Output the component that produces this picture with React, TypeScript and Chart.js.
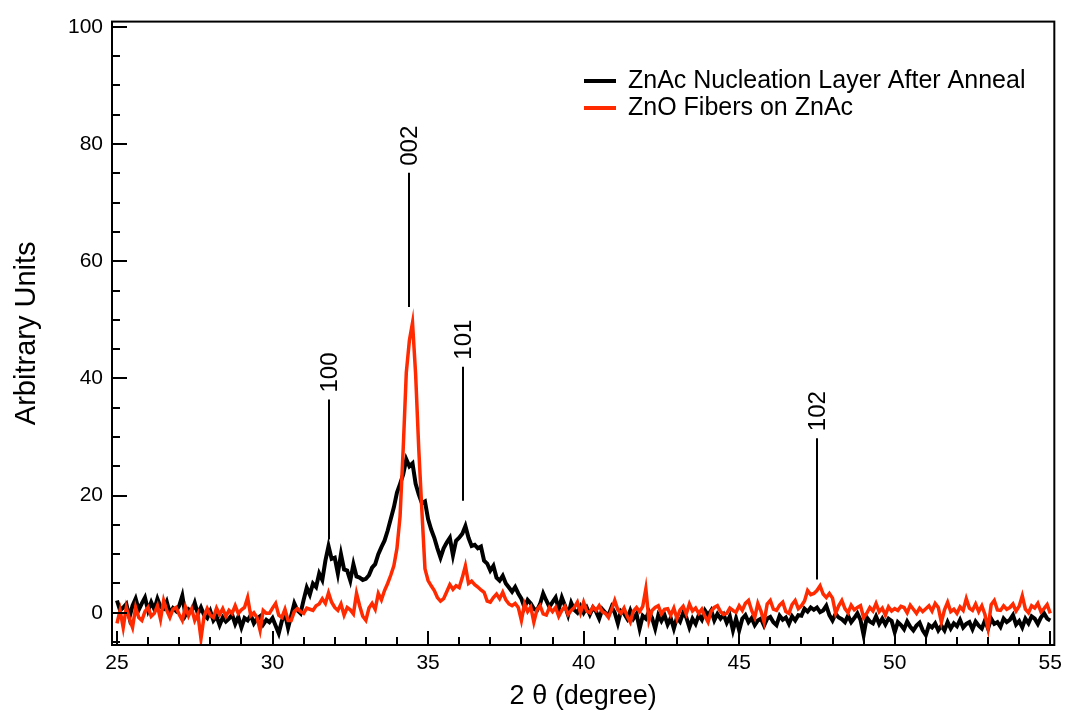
import React, { useEffect, useRef } from "react";
import { Chart, registerables } from "chart.js";

Chart.register(...registerables);

const FONT = '"Liberation Sans", Arial, Helvetica, sans-serif';

// 2θ grid: first angle and step (degrees)
const START_ANGLE = 25;
const ANGLE_STEP = 0.1;

const seriesLabels = ["ZnAc Nucleation Layer After Anneal", "ZnO Fibers on ZnAc"];
const seriesColors = ["#000000", "#ff2a00"];

// one row = one degree (10 samples), from 25.0 to 55.0
const znacCounts = [
  2.1, 0.4, 0.9, 1.5, -0.8, 1.2, 2.4, 0.5, 1.6, 2.6,
  0.4, 1.8, 0.6, 2.4, 1.0, 0.7, 1.9, -0.1, 0.8, 0.3,
  1.2, 2.9, -0.4, 0.6, 0.2, 1.7, -0.2, 0.9, -0.4, -0.9,
  0.3, -1.3, -0.6, -2.1, -0.8, -1.5, -1.0, -0.3, -1.9, -0.7,
  -2.5, -0.9, -1.3, -0.4, -1.8, -1.0, -0.6, -2.0, -1.2, -1.6,
  -0.9, -2.2, -3.5, -1.4, -0.1, -2.6, -0.5, 1.6, 0.4, -0.1,
  2.2, 4.3, 3.1, 5.0, 4.4, 6.7, 5.6, 8.9, 11.4, 9.2,
  9.4, 6.7, 10.0, 7.4, 7.2, 5.5, 8.3, 6.2, 6.0, 5.6,
  5.8, 6.4, 7.7, 8.3, 10.0, 11.2, 12.3, 14.0, 16.0, 18.0,
  20.5, 22.0, 23.6, 26.2, 25.0, 25.5, 22.0, 20.2, 18.7, 19.0,
  16.0, 14.2, 12.8, 11.0, 9.4, 11.0, 12.0, 12.8, 9.8, 12.3,
  12.8, 13.5, 14.8, 12.8, 11.4, 11.6, 11.0, 11.3, 8.9, 8.4,
  7.2, 8.0, 6.0, 5.5, 6.3, 5.0, 4.3, 3.6, 4.4, 3.3,
  2.4, 0.9, 2.2, 1.6, 0.7, 0.4, 1.5, 3.3, 2.1, 1.0,
  1.8, 2.6, 0.6, 2.6, 1.2, -0.4, 1.7, 0.5, 0.0, 1.1,
  0.0, 0.9, -0.3, 0.9, 0.2, -1.0, 0.6, 0.0, -0.4, 1.0,
  0.0, -1.8, 0.3, -0.1, -1.0, 0.4, -1.0, -0.2, -2.7, -0.5,
  -1.0, 0.2, -0.9, -2.7, -0.4, -1.4, -0.4, -2.0, -0.9, -2.7,
  -0.8, -1.5, 0.0, -0.8, -2.5, -1.0, -1.9, -0.4, -1.2, 0.4,
  -0.4, 0.4, -1.3, -0.2, -1.0, -0.3, -1.7, -0.6, -3.0, -1.0,
  -3.0, -1.0, -0.4, -1.6, -0.9, -2.1, -1.3, -1.0, -2.2, -1.0,
  -0.7, -1.6, -2.1, -0.5, -1.2, -0.8, -1.9, -0.6, -1.3, -0.4,
  -0.5, 0.7, 0.2, 0.9, 0.5, 0.9, 0.1, 0.4, 1.2, -0.4,
  -1.3, -0.2, -0.8, -1.1, -1.6, -0.5, -1.6, -0.9, -0.1, -1.2,
  -3.8, -0.8, -1.5, -1.8, -0.6, -1.9, -1.0, -2.0, -1.0, -1.4,
  -3.3, -1.6, -2.1, -2.8, -1.5, -2.4, -3.0, -2.2, -1.7, -3.0,
  -3.8, -2.1, -2.5, -1.8, -3.0, -2.2, -3.0, -1.6, -2.7, -1.8,
  -2.3, -1.2, -2.5, -1.9, -1.6, -2.8, -1.5, -2.2, -2.7, -1.3,
  -2.7, -1.0, -1.9, -1.6, -2.4, -1.0, -1.6, -1.2, -0.4, -2.0,
  -1.4, -2.5, -1.0, -1.8, -0.6, -1.0, -1.9, -0.8, -0.1, -1.0,
  -1.3,
];

const fiberCounts = [
  -1.8, 0.4, -2.5, 0.9, -1.0, -2.5, 0.9, -0.8, -1.3, 0.2,
  0.9, -0.6, -0.1, 1.2, -1.1, 2.1, 0.4, -0.8, 0.6, 0.9,
  -0.3, -1.3, 1.0, -0.5, 0.7, -1.3, -0.2, -4.4, -0.6, 0.7,
  -0.4, -0.8, 0.8, -0.3, 0.7, -0.6, 0.4, -0.1, 1.2, -0.1,
  0.5, 0.9, 2.6, -0.5, 0.0, -0.8, -3.0, 0.4, -0.1, -0.1,
  0.8, 1.6, -0.4, -0.8, 0.6, -1.3, -1.3, 0.2, 0.7, 0.2,
  -0.1, 0.8, 0.6, 0.4, 1.2, 1.5, 2.4, 1.6, 3.4, 1.8,
  0.9, 0.4, 1.5, -0.4, 0.9, 0.5, -0.2, 3.3, 1.2, -0.6,
  -1.3, 0.8, 1.6, 0.6, 3.3, 2.2, 3.8, 5.0, 6.4, 8.0,
  11.0, 16.5, 28.0, 41.0, 46.5, 49.5, 40.7, 28.0, 17.5, 7.5,
  5.5, 4.6, 3.8, 2.6, 2.0, 2.4, 3.6, 4.8, 4.0, 4.6,
  4.3, 6.0, 8.0, 5.0, 5.4, 4.8, 4.4, 3.9, 3.5, 2.0,
  1.8, 2.6, 3.2, 2.4, 3.5, 2.2, 1.5, 1.2, 1.6, 0.9,
  -1.3, 1.5, 0.2, 1.0, -1.6, 0.5, 1.2, -0.2, -0.4, 0.9,
  0.2, 0.9, -0.6, 0.4, 1.1, -0.3, 0.4, 0.9, 1.8, 0.0,
  1.8, 0.3, 0.0, 1.0, 0.4, 1.2, 0.2, -0.1, -0.8, 0.6,
  2.1, 0.5, -0.1, 0.8, -0.6, -1.6, 0.3, 0.9, 0.2, 1.1,
  4.1, -1.3, 0.4, 0.9, 1.2, -0.2, 0.6, 0.7, -0.4, 0.8,
  -1.0, 0.5, 1.1, -0.2, 1.5, 0.3, 0.8, -0.1, 0.6, -0.6,
  -1.6, 0.3, 0.9, 1.2, 0.2, -0.3, -0.1, 0.8, 0.4, 0.1,
  1.2, 0.4, 1.6, 2.1, 0.4, -0.8, 1.6, 0.3, -1.6, 1.5,
  2.1, 0.6, 0.4, 1.3, 1.8, 0.2, -0.1, 1.4, 2.1, 0.7,
  1.2, 2.0, 3.8, 3.1, 3.3, 3.8, 4.6, 3.2, 2.6, 3.3,
  2.5, -0.1, 1.2, 2.1, 0.7, 0.0, 1.3, 0.5, 0.9, 1.2,
  -0.8, -0.1, 0.9, 0.3, 1.6, 0.2, 0.8, -0.4, 1.0, 0.3,
  0.7, 0.4, 1.1, 0.9, 0.0, 1.3, 0.6, -0.1, 0.8, 0.2,
  0.7, 1.2, 0.3, 1.6, 0.9, -1.6, 0.5, 1.8, 0.2, 0.6,
  -0.1, 1.0, 0.4, 2.4, 0.8, 0.4, 1.5, 0.2, 1.2, -0.3,
  -2.7, 1.4, 2.1, 0.5, 0.4, 1.2, 0.6, 0.9, 1.5, 0.3,
  1.1, 2.9, 0.6, 0.0, 1.2, 0.8, 1.6, 0.2, 0.7, 1.4,
  -0.1,
];

const xTickValues = [25, 30, 35, 40, 45, 50, 55];
const yTickValues = [0, 20, 40, 60, 80, 100];

// reflection markers (hkl)
const peakLabels = ["100", "002", "101", "102"];
const peakAngles = [31.83, 34.39, 36.12, 47.5];
const peakLineTop = [36.4, 75.1, 42.0, 29.8];
const peakLineBottom = [12.5, 52.2, 19.1, 5.7];

const toPoints = (vals: number[]) =>
  vals.map((y, i) => ({ x: +(START_ANGLE + i * ANGLE_STEP).toFixed(2), y }));

const decorPlugin = {
  id: "decor",
  afterDraw(chart: any) {
    const { ctx, chartArea: a, scales } = chart;
    const xs = scales.x;
    const ys = scales.y;
    ctx.save();
    ctx.strokeStyle = "#000";
    ctx.fillStyle = "#000";
    ctx.lineCap = "butt";

    const seg = (x1: number, y1: number, x2: number, y2: number) => {
      ctx.beginPath();
      ctx.moveTo(x1, y1);
      ctx.lineTo(x2, y2);
      ctx.stroke();
    };

    // frame
    ctx.lineWidth = 2;
    ctx.strokeRect(a.left, a.top, a.right - a.left, a.bottom - a.top);

    // inward ticks on x (minor every 1, major every 5)
    for (let v = Math.ceil(xs.min); v <= xs.max + 1e-9; v += 1) {
      const px = Math.round(xs.getPixelForValue(v));
      const len = v % 5 === 0 ? 14 : 8;
      seg(px, a.bottom, px, a.bottom - len);
    }
    // inward ticks on y (minor every 5, major every 20)
    for (let v = Math.ceil(ys.min / 5) * 5; v <= ys.max + 1e-9; v += 5) {
      const py = Math.round(ys.getPixelForValue(v));
      const len = v % 20 === 0 ? 15 : 8;
      seg(a.left, py, a.left + len, py);
    }

    // reflection markers
    ctx.lineWidth = 2;
    ctx.font = `24px ${FONT}`;
    peakLabels.forEach((lab, i) => {
      const px = Math.round(xs.getPixelForValue(peakAngles[i]));
      const pt = ys.getPixelForValue(peakLineTop[i]);
      const pb = ys.getPixelForValue(peakLineBottom[i]);
      seg(px, pt, px, pb);
      ctx.save();
      ctx.translate(px + 1, pt - 7);
      ctx.rotate(-Math.PI / 2);
      ctx.textAlign = "left";
      ctx.textBaseline = "middle";
      ctx.fillText(lab, 0, 0);
      ctx.restore();
    });

    // legend
    ctx.font = `25px ${FONT}`;
    ctx.textAlign = "left";
    ctx.textBaseline = "middle";
    chart.data.datasets.forEach((ds: any, i: number) => {
      const y = 81 + i * 27;
      ctx.strokeStyle = ds.borderColor;
      ctx.lineWidth = 4;
      seg(584, y, 616, y);
      ctx.fillStyle = "#000";
      ctx.fillText(ds.label, 628, y);
    });
    ctx.restore();
  },
};

export default function App() {
  const ref = useRef<HTMLCanvasElement | null>(null);

  useEffect(() => {
    if (!ref.current) return;
    const chart = new Chart(ref.current, {
      type: "line",
      data: {
        datasets: [
          {
            label: seriesLabels[0],
            data: toPoints(znacCounts),
            borderColor: seriesColors[0],
            borderWidth: 4,
            pointRadius: 0,
            tension: 0,
            fill: false,
            order: 1,
          },
          {
            label: seriesLabels[1],
            data: toPoints(fiberCounts),
            borderColor: seriesColors[1],
            borderWidth: 3.5,
            pointRadius: 0,
            tension: 0,
            fill: false,
            order: 0,
          },
        ],
      },
      options: {
        animation: false,
        responsive: true,
        maintainAspectRatio: false,
        layout: { padding: { top: 19, right: 10, left: 0, bottom: 0 } },
        plugins: {
          legend: { display: false },
          tooltip: { enabled: false },
        },
        scales: {
          x: {
            type: "linear",
            min: 24.84,
            max: 55.13,
            afterBuildTicks: (s: any) => {
              s.ticks = xTickValues.map((v) => ({ value: v }));
            },
            afterFit: (s: any) => {
              s.height = 68;
            },
            grid: { display: false, drawTicks: false },
            border: { display: false },
            ticks: {
              color: "#000",
              font: { family: FONT, size: 21 },
              padding: 6,
              maxRotation: 0,
              autoSkip: false,
            },
            title: {
              display: true,
              text: "2 θ (degree)",
              color: "#000",
              font: { family: FONT, size: 27 },
              padding: { top: 0, bottom: 0 },
            },
          },
          y: {
            type: "linear",
            min: -5.5,
            max: 100.9,
            afterBuildTicks: (s: any) => {
              s.ticks = yTickValues.map((v) => ({ value: v }));
            },
            afterFit: (s: any) => {
              s.width = 112;
            },
            grid: { display: false, drawTicks: false },
            border: { display: false },
            ticks: {
              color: "#000",
              font: { family: FONT, size: 21 },
              padding: 9,
              autoSkip: false,
            },
            title: {
              display: true,
              text: "Arbitrary Units",
              color: "#000",
              font: { family: FONT, size: 29 },
              padding: { top: 10, bottom: 0 },
            },
          },
        },
      },
      plugins: [decorPlugin],
    });
    return () => chart.destroy();
  }, []);

  return (
    <div style={{ position: "absolute", left: 0, top: 0, width: 1068, height: 713, background: "#fff" }}>
      <canvas ref={ref} />
    </div>
  );
}
